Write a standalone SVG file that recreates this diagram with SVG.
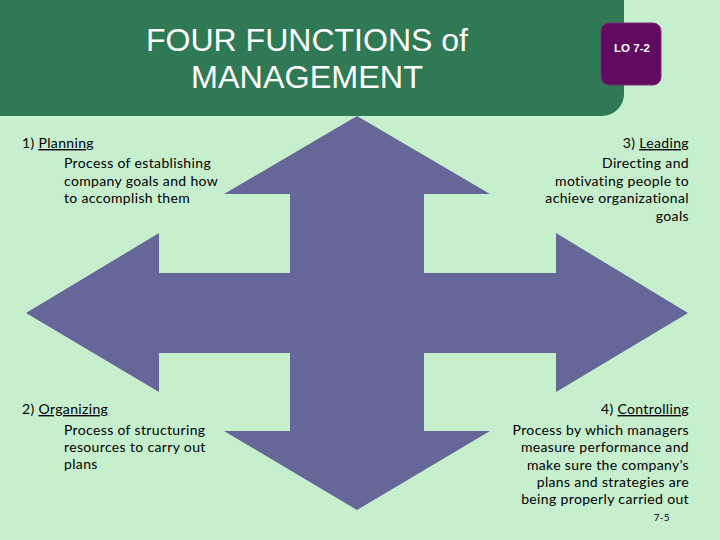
<svg xmlns="http://www.w3.org/2000/svg" width="720" height="540" viewBox="0 0 720 540">
<style>
.t{font-family:Lato,"Liberation Sans",sans-serif;font-size:14px;fill:#000;letter-spacing:0.35px}
.r{text-anchor:end}
.u{text-decoration:underline}
.title{font-family:"Liberation Sans",Arial,sans-serif;font-size:31.5px;fill:#fff;text-anchor:middle}
</style>
<rect x="0" y="0" width="720" height="540" fill="#c6efce"/>
<g id="title">
<rect x="-30" y="-30" width="654" height="146" rx="22" fill="#2f7a55"/>
<text class="title" x="307" y="51" textLength="322" lengthAdjust="spacingAndGlyphs">FOUR FUNCTIONS of</text>
<text class="title" x="307" y="88" textLength="232" lengthAdjust="spacingAndGlyphs">MANAGEMENT</text>
</g>
<g id="lo">
<rect x="601" y="23" width="60" height="62" rx="8" fill="#600a60" stroke="#7a2a7a" stroke-width="1"/>
<text x="632" y="52" font-family="Liberation Sans,Arial,sans-serif" font-size="11.5" font-weight="bold" fill="#fff" text-anchor="middle">LO 7-2</text>
</g>
<g id="arrows">
<polygon fill="#666699" points="357,116 490,194 424,194 424,273 556,273 556,233 688,313 556,392 556,353 424,353 424,431 490,431 357,510 224,431 290,431 290,353 159,353 159,392 26,313 159,233 159,273 290,273 290,194 224,194"/>
</g>
<g id="planning">
<text class="t" x="22" y="148">1) <tspan class="u">Planning</tspan></text>
<text class="t" x="64" y="168">Process of establishing</text>
<text class="t" x="64" y="186">company goals and how</text>
<text class="t" x="64" y="203">to accomplish them</text>
</g>
<g id="leading">
<text class="t r" x="689" y="148">3) <tspan class="u">Leading</tspan></text>
<text class="t r" x="689" y="168">Directing and</text>
<text class="t r" x="689" y="186">motivating people to</text>
<text class="t r" x="689" y="203">achieve organizational</text>
<text class="t r" x="689" y="221">goals</text>
</g>
<g id="organizing">
<text class="t" x="22" y="414">2) <tspan class="u">Organizing</tspan></text>
<text class="t" x="64" y="435">Process of structuring</text>
<text class="t" x="64" y="452">resources to carry out</text>
<text class="t" x="64" y="469">plans</text>
</g>
<g id="controlling">
<text class="t r" x="689" y="414">4) <tspan class="u">Controlling</tspan></text>
<text class="t r" x="689" y="435">Process by which managers</text>
<text class="t r" x="689" y="452">measure performance and</text>
<text class="t r" x="689" y="470">make sure the company’s</text>
<text class="t r" x="689" y="487">plans and strategies are</text>
<text class="t r" x="689" y="504">being properly carried out</text>
<text class="t r" x="670" y="521" style="font-size:10px">7-5</text>
</g>
</svg>
